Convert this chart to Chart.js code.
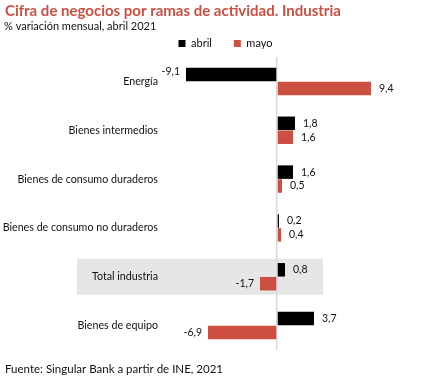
<!DOCTYPE html>
<html>
<head>
<meta charset="utf-8">
<script src="https://cdn.jsdelivr.net/npm/chart.js@4.4.0/dist/chart.umd.min.js"></script>
<style>
  html, body { margin: 0; padding: 0; background: #fff; }
  #wrap { position: relative; width: 434px; height: 386px; }
</style>
</head>
<body>
<div id="wrap"><canvas id="chart" width="434" height="386"></canvas></div>
<script>
// data
var categories = ['Energía', 'Bienes intermedios', 'Bienes de consumo duraderos',
    'Bienes de consumo no duraderos', 'Total industria', 'Bienes de equipo'];
var abril = [-9.1, 1.8, 1.6, 0.2, 0.8, 3.7];
var mayo = [9.4, 1.6, 0.5, 0.4, -1.7, -6.9];

var titleText = 'Cifra de negocios por ramas de actividad. Industria';
var subtitleText = '% variación mensual, abril 2021';
var sourceText = 'Fuente: Singular Bank a partir de INE, 2021';

var FONT = 'Lato';
var RED = '#cd4f42';

// grey box behind "Total industria"
var bandPlugin = {
    id: 'band',
    beforeDraw: function (chart) {
        var ctx = chart.ctx;
        var x = chart.scales.x, y = chart.scales.y;
        var cy = y.getPixelForValue(4);
        var x0 = x.getPixelForValue(-20), x1 = x.getPixelForValue(4.6);
        ctx.save();
        ctx.fillStyle = '#e6e6e6';
        ctx.fillRect(x0, cy - 18, x1 - x0, 36);
        ctx.restore();
    }
};

// legend sits a bit right of the canvas centre
var legendShift = {
    id: 'legendShift',
    afterLayout: function (chart) {
        chart.legend.left += 44;
    }
};

// value labels next to the bars, decimal comma
var labelPlugin = {
    id: 'valueLabels',
    afterDatasetsDraw: function (chart) {
        var ctx = chart.ctx;
        ctx.save();
        ctx.font = '10.5px ' + FONT;
        ctx.fillStyle = '#111';
        ctx.textBaseline = 'middle';
        chart.data.datasets.forEach(function (ds, i) {
            chart.getDatasetMeta(i).data.forEach(function (bar, j) {
                var v = ds.data[j];
                var txt = v.toFixed(1).replace('.', ',');
                if (v >= 0) {
                    ctx.textAlign = 'left';
                    ctx.fillText(txt, bar.x + 8, bar.y);
                } else {
                    ctx.textAlign = 'right';
                    ctx.fillText(txt, bar.x - 6, bar.y - (j === 0 ? 3 : 0));
                }
            });
        });
        ctx.restore();
    }
};

// title, subtitle and source
var textPlugin = {
    id: 'texts',
    afterDraw: function (chart) {
        var ctx = chart.ctx;
        ctx.save();
        ctx.textAlign = 'left';
        ctx.textBaseline = 'alphabetic';
        ctx.fillStyle = RED;
        ctx.font = 'bold 15px ' + FONT;
        ctx.fillText(titleText, 5, 16);
        ctx.fillStyle = '#111';
        ctx.font = '11px ' + FONT;
        ctx.fillText(subtitleText, 4, 30);
        ctx.font = '11.5px ' + FONT;
        ctx.fillText(sourceText, 5, 373);
        ctx.restore();
    }
};

new Chart(document.getElementById('chart'), {
    type: 'bar',
    data: {
        labels: categories,
        datasets: [{
            label: 'abril',
            data: abril,
            backgroundColor: '#000000',
            categoryPercentage: 0.57,
            barPercentage: 0.97
        }, {
            label: 'mayo',
            data: mayo,
            backgroundColor: RED,
            categoryPercentage: 0.57,
            barPercentage: 0.97
        }]
    },
    options: {
        indexAxis: 'y',
        responsive: false,
        animation: false,
        layout: { padding: { top: 16, right: 27, bottom: 36, left: 0 } },
        plugins: {
            legend: {
                position: 'top',
                align: 'center',
                maxHeight: 41,
                labels: {
                    boxWidth: 7,
                    boxHeight: 7,
                    padding: 22,
                    color: '#111',
                    font: { family: FONT, size: 11 }
                }
            },
            tooltip: { enabled: false }
        },
        scales: {
            x: {
                min: -11,
                max: 13,
                ticks: { display: false, stepSize: 1 },
                border: { display: false },
                grid: {
                    drawTicks: false,
                    lineWidth: 1.5,
                    color: function (c) { return c.tick && c.tick.value === 0 ? '#d9d9d9' : 'rgba(0,0,0,0)'; }
                },
                afterFit: function (s) { s.height = 0; }
            },
            y: {
                ticks: {
                    padding: 9,
                    color: '#111',
                    font: { family: FONT, size: 10.7 }
                },
                border: { display: false },
                grid: { display: false, drawTicks: false },
                afterFit: function (s) { s.width = 167; }
            }
        }
    },
    plugins: [bandPlugin, legendShift, labelPlugin, textPlugin]
});
</script>
</body>
</html>
